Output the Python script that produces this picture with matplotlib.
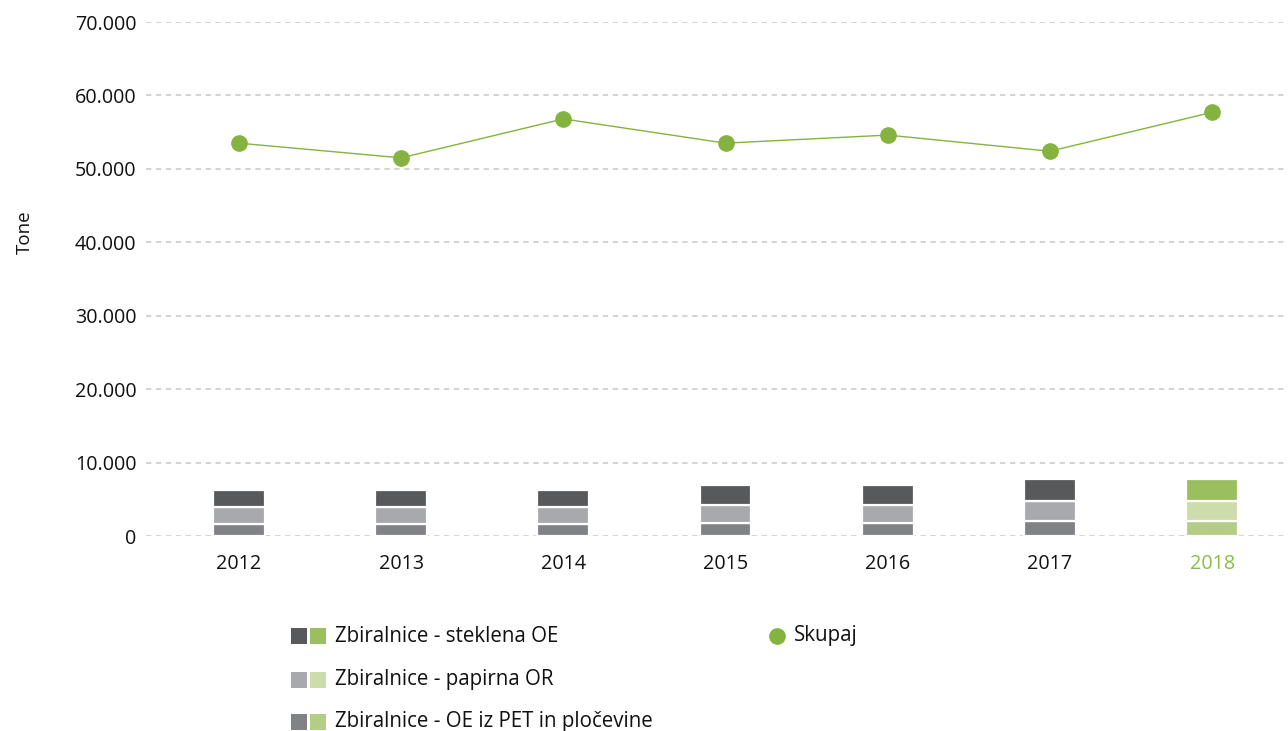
import matplotlib
matplotlib.use("Agg")
import matplotlib.pyplot as plt
from matplotlib.patches import Rectangle
from matplotlib.lines import Line2D
import numpy as np

plt.rcParams['font.family'] = ['Open Sans', 'DejaVu Sans']

years = ["2012", "2013", "2014", "2015", "2016", "2017", "2018"]
pet = [1600, 1600, 1600, 1800, 1800, 2000, 2000]
papir = [2300, 2300, 2300, 2400, 2400, 2700, 2700]
steklo = [2400, 2400, 2400, 2800, 2800, 3050, 3050]
skupaj = [53500, 51500, 56800, 53500, 54600, 52400, 57700]
yticks = [0, 10000, 20000, 30000, 40000, 50000, 60000, 70000]
ytick_labels = ["0", "10.000", "20.000", "30.000", "40.000", "50.000", "60.000", "70.000"]

gray_cols = {"steklo": "#58595b", "papir": "#a7a9ac", "pet": "#808285"}
green_cols = {"steklo": "#9bbe5f", "papir": "#cddcab", "pet": "#b3cd87"}
line_col = "#84b33f"
text_col = "#111111"

W, H = 1288, 731
fig = plt.figure(figsize=(W / 100, H / 100), dpi=100)
ax = fig.add_axes([146 / W, 1 - 536 / H, 1 - 146 / W, (536 - 22) / H])

x = np.arange(len(years))
last = len(years) - 1
def cols(key):
    return [green_cols[key] if i == last else gray_cols[key] for i in range(len(years))]

bw = 0.32
bottom = np.zeros(len(years))
for key, vals in (("pet", pet), ("papir", papir), ("steklo", steklo)):
    ax.bar(x, vals, bw, bottom=bottom, color=cols(key), edgecolor="white", linewidth=1.6, zorder=2)
    bottom += np.array(vals)

ax.plot(x, skupaj, color=line_col, linewidth=1.0, marker="o", markersize=11,
        markerfacecolor=line_col, markeredgecolor=line_col, zorder=3, clip_on=False)

ax.set_xlim(-0.573, 6.468)
ax.set_ylim(0, 70000)
ax.set_yticks(yticks)
ax.set_yticklabels(ytick_labels)
ax.set_xticks(x)
ax.set_xticklabels(years)
ax.tick_params(axis="both", length=0, labelsize=14.2, colors=text_col)
ax.tick_params(axis="y", pad=7)
ax.tick_params(axis="x", pad=13)
for lbl in ax.get_xticklabels():
    if lbl.get_text() == "2018":
        lbl.set_color("#8dbb4a")
for s in ax.spines.values():
    s.set_visible(False)
ax.set_axisbelow(True)
ax.yaxis.grid(True, color="#c8c8c8", linestyle=(0, (3.5, 3)), linewidth=1.1)
ax.xaxis.grid(False)

fig.text(25 / W, 1 - 232 / H, "Tone", rotation=90, ha="center", va="center",
         fontsize=13.5, color=text_col)

# legend
def px_rect(x0, y0, w, h, c):
    fig.add_artist(Rectangle((x0 / W, 1 - (y0 + h) / H), w / W, h / H,
                             transform=fig.transFigure, color=c, linewidth=0))

rows = [("steklo", "Zbiralnice - steklena OE", 636),
        ("papir", "Zbiralnice - papirna OR", 680),
        ("pet", "Zbiralnice - OE iz PET in pločevine", 722)]
for key, label, yc in rows:
    px_rect(291, yc - 8, 16, 16, gray_cols[key])
    px_rect(310, yc - 8, 16, 16, green_cols[key])
    fig.text(335 / W, 1 - yc / H, label, ha="left", va="center", fontsize=14.8, color=text_col)

fig.add_artist(Line2D([777 / W], [1 - 636 / H], transform=fig.transFigure, marker="o",
                      markersize=11, color=line_col, linestyle="none"))
fig.text(794 / W, 1 - 636 / H, "Skupaj", ha="left", va="center", fontsize=14.8, color=text_col)

fig.savefig("out.png", dpi=100, facecolor="white")
